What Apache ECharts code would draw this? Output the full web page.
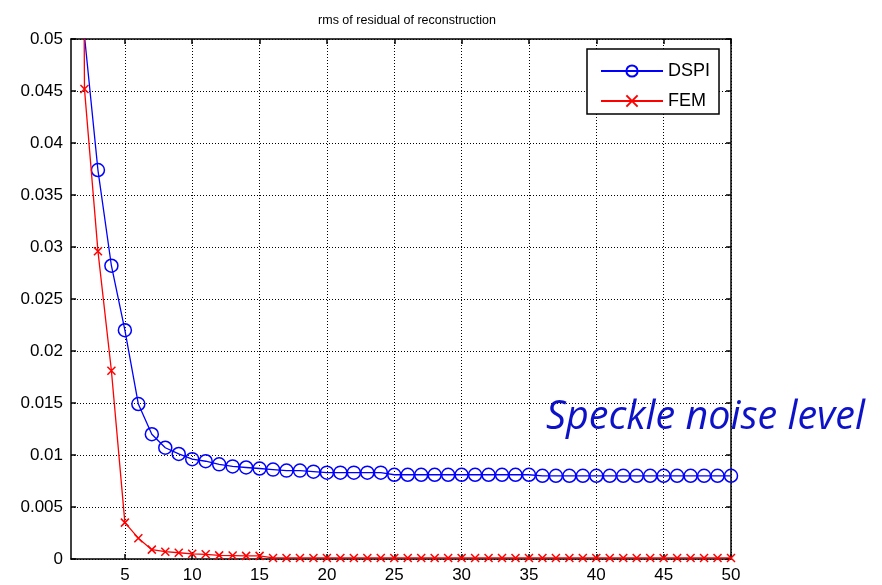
<!DOCTYPE html>
<html>
<head>
<meta charset="utf-8">
<script src="https://cdn.jsdelivr.net/npm/echarts@6/dist/echarts.min.js"></script>
<style>html,body{margin:0;padding:0;background:#fff}#c{width:882px;height:585px}</style>
</head>
<body>
<div id="c"></div>
<script>
const iterations = [1,2,3,4,5,6,7,8,9,10,11,12,13,14,15,16,17,18,19,20,21,22,23,24,25,26,27,28,29,30,31,32,33,34,35,36,37,38,39,40,41,42,43,44,45,46,47,48,49,50];
const dspi = [0.12,0.0503,0.0374,0.0282,0.0220,0.0149,0.0120,0.0107,0.0101,0.0096,
  0.0094,0.0091,0.0089,0.0088,0.0087,0.0086,0.0085,0.0085,0.0084,0.0083,
  0.0083,0.0083,0.0083,0.0083,0.0081,0.0081,0.0081,0.0081,0.0081,0.0081,
  0.0081,0.0081,0.0081,0.0081,0.0081,0.0080,0.0080,0.0080,0.0080,0.0080,
  0.0080,0.0080,0.0080,0.0080,0.0080,0.0080,0.0080,0.0080,0.0080,0.0080];
const fem = [0.3,0.0452,0.0296,0.0181,0.0035,0.0020,0.0009,0.0007,0.0006,0.0005,
  0.00045,0.00035,0.00033,0.0003,0.0003,0.0001,0.0001,0.0001,0.0001,0.0001,
  0.0001,0.0001,0.0001,0.0001,0.0001,0.0001,0.0001,0.0001,0.0001,0.0001,
  0.0001,0.0001,0.0001,0.0001,0.0001,0.0001,0.0001,0.0001,0.0001,0.0001,
  0.0001,0.0001,0.0001,0.0001,0.0001,0.0001,0.0001,0.0001,0.0001,0.0001];
const xTicks = [5,10,15,20,25,30,35,40,45,50];
const seriesNames = ['DSPI','FEM'];
const titleText = 'rms of residual of reconstruction';
const noteText = 'Speckle noise level';

const FONT = 'Liberation Sans, Arial, sans-serif';
const chart = echarts.init(document.getElementById('c'));
const pairs = (vals) => iterations.map((x, i) => [x, vals[i]]);
const crossPath = 'path://M0,0L10,10M10,0L0,10';

chart.setOption({
  animation: false,
  backgroundColor: '#fff',
  title: {
    text: titleText, left: 402, top: 9, textAlign: 'center',
    textStyle: {fontFamily: FONT, fontSize: 12.5, fontWeight: 'normal', color: '#000'}
  },
  grid: {left: 71, right: 151, top: 39, bottom: 26},
  legend: {
    left: 587, top: 49,
    orient: 'vertical',
    padding: [13, 9, 4, 13],
    itemGap: 12,
    itemWidth: 62, itemHeight: 14,
    borderColor: '#000', borderWidth: 1.5,
    backgroundColor: '#fff',
    textStyle: {fontFamily: FONT, fontSize: 18, color: '#000'},
    data: seriesNames
  },
  xAxis: [{
    type: 'value', min: 1, max: 50,
    axisLine: {show: true, onZero: false, lineStyle: {color: '#000', width: 1.5}},
    axisTick: {show: true, inside: true, length: 5, customValues: xTicks, lineStyle: {color: '#000', width: 1.5}},
    axisLabel: {customValues: xTicks, fontFamily: FONT, fontSize: 17, color: '#000', margin: 8},
    splitLine: {show: true, lineStyle: {color: '#000', type: [1, 2], width: 1}}
  }, {
    type: 'value', min: 1, max: 50, position: 'top',
    axisLine: {show: true, onZero: false, lineStyle: {color: '#000', width: 1.5}},
    axisTick: {show: true, inside: true, length: 5, customValues: xTicks, lineStyle: {color: '#000', width: 1.5}},
    axisLabel: {show: false},
    splitLine: {show: false}
  }],
  yAxis: [{
    type: 'value', min: 0, max: 0.05, interval: 0.005,
    axisLine: {show: true, onZero: false, lineStyle: {color: '#000', width: 1.5}},
    axisTick: {show: true, inside: true, length: 5, lineStyle: {color: '#000', width: 1.5}},
    axisLabel: {fontFamily: FONT, fontSize: 17, color: '#000', margin: 8,
      formatter: v => String(+v.toFixed(4))},
    splitLine: {show: true, lineStyle: {color: '#000', type: [1, 2], width: 1}}
  }, {
    type: 'value', min: 0, max: 0.05, interval: 0.005, position: 'right',
    axisLine: {show: true, onZero: false, lineStyle: {color: '#000', width: 1.5}},
    axisTick: {show: true, inside: true, length: 5, lineStyle: {color: '#000', width: 1.5}},
    axisLabel: {show: false},
    splitLine: {show: false}
  }],
  series: [{
    name: seriesNames[0], type: 'line', data: pairs(dspi),
    xAxisIndex: 0, yAxisIndex: 0,
    symbol: 'circle', symbolSize: 13, showAllSymbol: true,
    lineStyle: {color: '#0000ff', width: 1.3},
    itemStyle: {color: 'rgba(0,0,0,0)', borderColor: '#0000ff', borderWidth: 1.5},
    clip: true, z: 3
  }, {
    name: seriesNames[1], type: 'line', data: pairs(fem),
    xAxisIndex: 0, yAxisIndex: 0,
    symbol: crossPath, symbolSize: 8, showAllSymbol: true,
    lineStyle: {color: '#ff0000', width: 1.3},
    itemStyle: {color: 'rgba(0,0,0,0)', borderColor: '#ff0000', borderWidth: 1.5},
    clip: true, z: 4
  }],
  graphic: [{
    type: 'text', left: 546, top: 398, z: 10,
    style: {text: noteText, fill: '#0d12c8', fontFamily: 'Open Sans, Noto Sans, sans-serif',
      fontStyle: 'italic', fontSize: 39.5}
  }]
});
</script>
</body>
</html>
